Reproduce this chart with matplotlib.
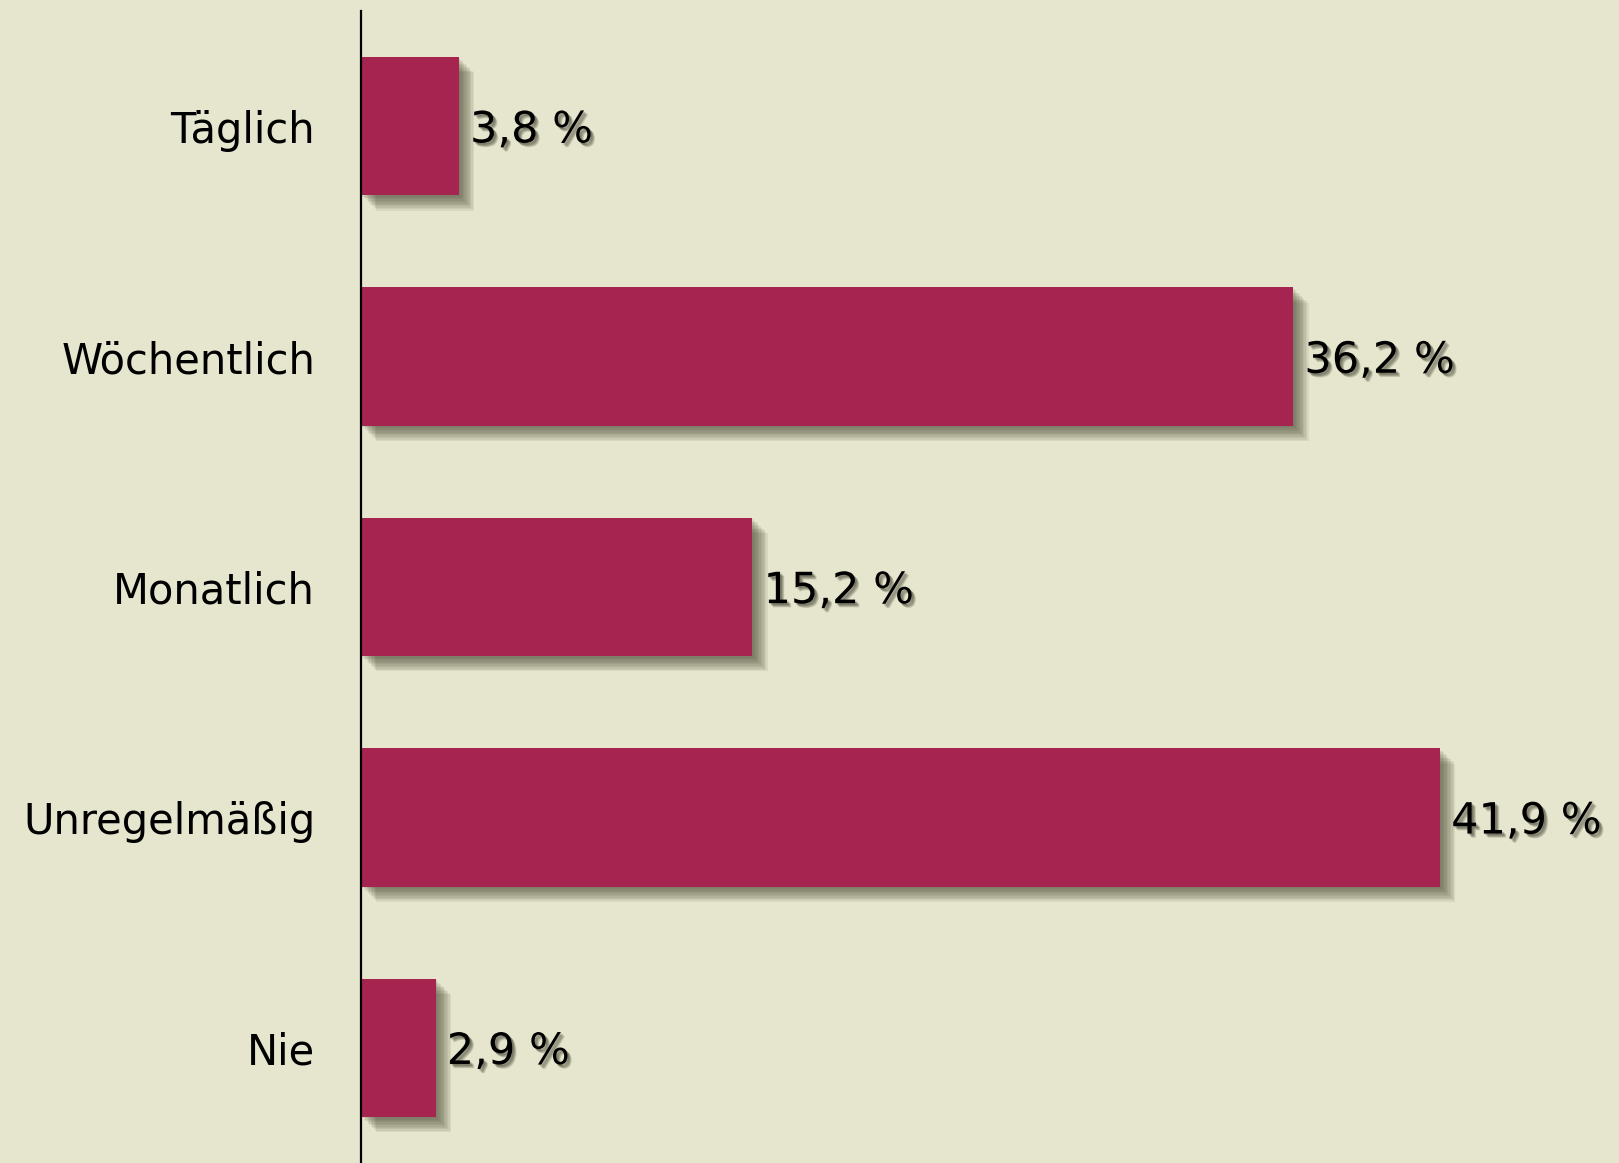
import matplotlib.pyplot as plt
import matplotlib.patheffects as pe

kategorien = ['Täglich', 'Wöchentlich', 'Monatlich', 'Unregelmäßig', 'Nie']
werte = [3.8, 36.2, 15.2, 41.9, 2.9]
beschriftung = ['3,8 %', '36,2 %', '15,2 %', '41,9 %', '2,9 %']

hintergrund = '#E6E6CE'
balken_farbe = '#A62450'

fig = plt.figure(figsize=(16.19, 11.63), dpi=100)
fig.patch.set_facecolor(hintergrund)
ax = fig.add_axes([361 / 1619, 0, 1 - 361 / 1619, 1 - 11 / 1163])
ax.set_facecolor(hintergrund)

# weicher Schatten: mehrere versetzte Schatten mit wenig Deckkraft
bar_shadow = [pe.SimplePatchShadow(offset=(o, -o), shadow_rgbFace='#4a4a36', alpha=0.09)
              for o in (1, 2, 3, 4, 5, 6, 7, 8, 9, 10, 11)] + [pe.Normal()]
text_shadow = [pe.SimplePatchShadow(offset=(o, -o), shadow_rgbFace='#3a3a2a', alpha=0.18)
               for o in (1, 1.5, 2, 2.5, 3)] + [pe.Normal()]

pos = list(range(len(kategorien)))
bars = ax.barh(pos, werte, height=0.6, color=balken_farbe, zorder=2)
for b in bars:
    b.set_path_effects(bar_shadow)

for p, w, t in zip(pos, werte, beschriftung):
    ax.annotate(t, (w, p), xytext=(8, -3), textcoords='offset points',
                va='center', ha='left', fontsize=31, family='DejaVu Sans',
                color='black', path_effects=text_shadow, zorder=3)

ax.set_xlim(0, 48.85)
ax.set_ylim(4.5, -0.5)
ax.set_yticks(pos)
ax.set_yticklabels(kategorien, fontsize=30, family='DejaVu Sans')
ax.tick_params(axis='y', length=0, pad=33)
ax.set_xticks([])
for s in ['top', 'right', 'bottom']:
    ax.spines[s].set_visible(False)
ax.spines['left'].set_linewidth(1.6)
ax.spines['left'].set_color('black')
ax.spines['left'].set_zorder(4)

plt.savefig('out.png', dpi=100, facecolor=hintergrund)
